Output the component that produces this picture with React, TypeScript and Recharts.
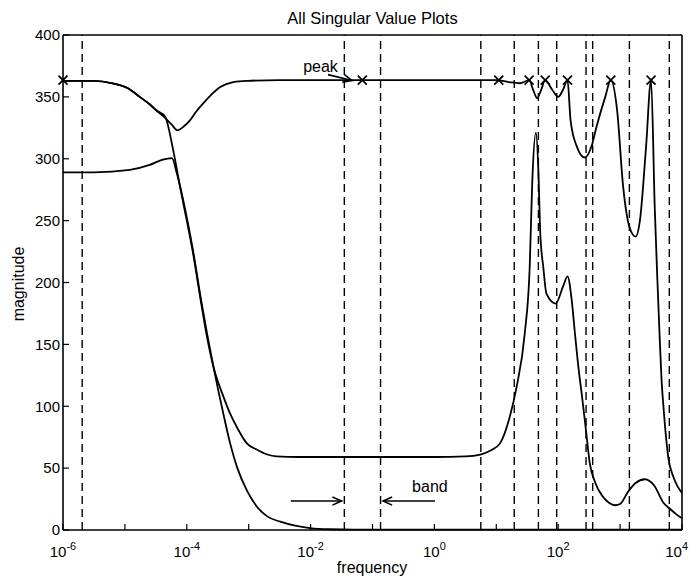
import React from "react";
import {
  ComposedChart,
  Line,
  Scatter,
  XAxis,
  YAxis,
  ReferenceLine,
  ReferenceDot,
} from "recharts";

// x values are log10(frequency)
const xTicks = [-6, -5, -4, -3, -2, -1, 0, 1, 2, 3, 4];
const yTicks = [0, 50, 100, 150, 200, 250, 300, 350, 400];

const cutoffExp = [-5.69, -1.455, -0.87, 0.75, 1.29, 1.68, 1.976, 2.45, 2.557, 3.15, 3.795];

const peakExp = [-6, -1.165, 1.04, 1.53, 1.79, 2.15, 2.85, 3.5];
const peakMag = [363.5, 363.5, 363.5, 363.5, 363.5, 363.5, 363.5, 363.5];

const s1Exp = [
  -6, -5.5, -5.2, -4.95, -4.76, -4.6, -4.49, -4.35, -4.25, -4.15, -4.05, -3.95, -3.85, -3.73, -3.6,
  -3.46, -3.25, -3.03, -2.5, 0, 1.0, 1.2, 1.38, 1.53, 1.6, 1.66, 1.72, 1.79, 1.9, 2.0, 2.08, 2.15,
  2.2, 2.3, 2.43, 2.55, 2.62, 2.76, 2.85, 2.95, 3.05, 3.15, 3.25, 3.32, 3.42, 3.5, 3.56, 3.6, 3.64,
  3.67, 3.7, 3.74, 3.78, 3.86, 3.93, 4,
];
const s1Mag = [
  363, 363, 361, 357, 350, 344, 339, 333, 328, 323, 326, 331, 338, 345, 352,
  358, 362, 363, 363.5, 363.5, 363.5, 362, 361, 363.5, 355, 349, 355, 363.5, 356, 350, 356, 363.5,
  331, 310, 301, 312, 326, 350, 363.5, 340, 277, 245, 237, 250, 310, 363.5, 260, 205, 155,
  121, 100, 76, 58, 43, 35, 30,
];

const s2Exp = [
  -6, -5.5, -5.2, -4.95, -4.76, -4.6, -4.49, -4.35, -4.22, -4.1, -4.0, -3.9, -3.77, -3.67, -3.57,
  -3.41, -3.3, -3.19, -3.03, -2.87, -2.7, -2.55, -2.2, 0, 0.5, 0.74, 0.9, 1.06, 1.22, 1.33, 1.46,
  1.54, 1.58, 1.64, 1.68, 1.71, 1.76, 1.81, 1.96, 2.08, 2.15, 2.22, 2.27, 2.33, 2.38, 2.45, 2.51,
  2.6, 2.72, 2.82, 2.92, 3.0, 3.13, 3.25, 3.4, 3.55, 3.7, 3.81, 3.9, 4,
];
const s2Mag = [
  363, 363, 361, 357, 350, 344, 339, 334, 307, 275, 250, 224, 184, 155, 132,
  108, 94, 83, 70, 65, 61, 59.5, 59, 59, 59.5, 61, 64, 70, 92, 116, 159,
  213, 280, 321, 290, 240, 212, 191, 183, 197, 205, 185, 159, 130, 110, 80, 54,
  38, 27, 22, 20, 21, 31, 38, 41, 36, 22, 17, 13, 9.5,
];

const s3Exp = [
  -6, -5.5, -4.92, -4.6, -4.4, -4.24, -4.16, -4.06, -3.9, -3.77, -3.57, -3.41, -3.3, -3.19, -3.03,
  -2.87, -2.7, -2.49, -2.25, -2.01, -1.69, -1.3, 0, 2, 4,
];
const s3Mag = [
  289, 289, 291, 295, 299, 300.5, 288, 267, 226, 186, 132, 94, 70, 51, 32,
  19, 11, 6.7, 3.5, 1.6, 0.6, 0.3, 0.3, 0.3, 0.3,
];

const toPoints = (xs: number[], ys: number[]) => xs.map((x, i) => ({ x, y: ys[i] }));

const s1 = toPoints(s1Exp, s1Mag);
const s2 = toPoints(s2Exp, s2Mag);
const s3 = toPoints(s3Exp, s3Mag);
const peaks = toPoints(peakExp, peakMag);

const font = "'Liberation Sans', Arial, Helvetica, sans-serif";

const XTick = (props: any) => {
  const { x, y, payload } = props;
  const e = payload.value;
  if (e % 2 !== 0) return <g />;
  // last label would run past the page edge, so anchor it at its end
  const last = e === xTicks[xTicks.length - 1];
  return (
    <text
      x={last ? 688 : x}
      y={y + 27}
      textAnchor={last ? "end" : "middle"}
      fontSize={15}
      fontFamily={font}
      fill="#000"
    >
      <tspan>10</tspan>
      <tspan dy={-7} fontSize={11}>
        {String(e)}
      </tspan>
    </text>
  );
};

const Cross = (props: any) => {
  const { cx, cy } = props;
  const r = 4.5;
  return (
    <path
      d={`M${cx - r},${cy - r}L${cx + r},${cy + r}M${cx - r},${cy + r}L${cx + r},${cy - r}`}
      stroke="#000"
      strokeWidth={1.7}
      fill="none"
    />
  );
};

const Arrow = (props: any) => {
  const { x1, y1, x2, y2 } = props;
  const a = Math.atan2(y2 - y1, x2 - x1);
  const len = 10;
  const w = 0.42;
  const ax = x2 - len * Math.cos(a - w);
  const ay = y2 - len * Math.sin(a - w);
  const bx = x2 - len * Math.cos(a + w);
  const by = y2 - len * Math.sin(a + w);
  return (
    <g>
      <line x1={x1} y1={y1} x2={x2} y2={y2} stroke="#000" strokeWidth={1.6} />
      <polyline points={`${ax},${ay} ${x2},${y2} ${bx},${by}`} fill="none" stroke="#000" strokeWidth={1.6} />
    </g>
  );
};

const Note = (text: string) => (props: any) => (
  <text x={props.cx} y={props.cy} fontSize={16} fontFamily={font} fill="#000">
    {text}
  </text>
);

export default function App() {
  return (
    <div style={{ position: "relative", width: 689, height: 581, background: "#fff" }}>
      <style>{`body{margin:0;}`}</style>
      <div
        style={{
          position: "absolute",
          left: 63,
          width: 619,
          top: 8,
          textAlign: "center",
          fontFamily: font,
          fontSize: 16.5,
          lineHeight: "20px",
        }}
      >
        All Singular Value Plots
      </div>
      <ComposedChart width={689} height={581} margin={{ top: 0, right: 0, bottom: 0, left: 0 }}>
        <XAxis
          xAxisId="B"
          dataKey="x"
          type="number"
          domain={[-6, 4]}
          ticks={xTicks}
          interval={0}
          height={51}
          tickSize={-6}
          tickMargin={6}
          tick={<XTick />}
          axisLine={{ stroke: "#000", strokeWidth: 1.6 }}
          tickLine={{ stroke: "#000", strokeWidth: 1.2 }}
          label={{
            content: () => (
              <text x={372} y={573} textAnchor="middle" fontSize={16} fontFamily={font} fill="#000">
                frequency
              </text>
            ),
          }}
        />
        <XAxis
          xAxisId="T"
          dataKey="x"
          type="number"
          orientation="top"
          domain={[-6, 4]}
          ticks={xTicks}
          interval={0}
          height={35}
          tickSize={-6}
          tick={false}
          axisLine={{ stroke: "#000", strokeWidth: 1.6 }}
          tickLine={{ stroke: "#000", strokeWidth: 1.2 }}
        />
        <YAxis
          yAxisId="L"
          type="number"
          domain={[0, 400]}
          ticks={yTicks}
          interval={0}
          width={63}
          tickSize={-6}
          tickMargin={9}
          tick={{ fill: "#000", fontSize: 15, fontFamily: font }}
          axisLine={{ stroke: "#000", strokeWidth: 1.6 }}
          tickLine={{ stroke: "#000", strokeWidth: 1.2 }}
          label={{
            content: () => (
              <text
                x={24}
                y={284}
                transform="rotate(-90 24 284)"
                textAnchor="middle"
                fontSize={16}
                fontFamily={font}
                fill="#000"
              >
                magnitude
              </text>
            ),
          }}
        />
        <YAxis
          yAxisId="R"
          orientation="right"
          type="number"
          domain={[0, 400]}
          ticks={yTicks}
          interval={0}
          width={7}
          tickSize={-6}
          tick={false}
          axisLine={{ stroke: "#000", strokeWidth: 1.6 }}
          tickLine={{ stroke: "#000", strokeWidth: 1.2 }}
        />

        {cutoffExp.map((e) => (
          <ReferenceLine
            key={e}
            x={e}
            xAxisId="B"
            yAxisId="L"
            stroke="#000"
            strokeWidth={1.4}
            strokeDasharray="8 5"
          />
        ))}

        <Line xAxisId="B" yAxisId="L" data={s3} dataKey="y" type="monotone" stroke="#000" strokeWidth={1.8} dot={false} activeDot={false} isAnimationActive={false} />
        <Line xAxisId="B" yAxisId="L" data={s2} dataKey="y" type="monotone" stroke="#000" strokeWidth={1.8} dot={false} activeDot={false} isAnimationActive={false} />
        <Line xAxisId="B" yAxisId="L" data={s1} dataKey="y" type="monotone" stroke="#000" strokeWidth={1.8} dot={false} activeDot={false} isAnimationActive={false} />
        <Scatter xAxisId="B" yAxisId="L" data={peaks} dataKey="y" shape={<Cross />} isAnimationActive={false} />

        <ReferenceLine
          xAxisId="B"
          yAxisId="L"
          segment={[{ x: -1.72, y: 368 }, { x: -1.33, y: 363.3 }]}
          shape={<Arrow />}
        />
        <ReferenceLine
          xAxisId="B"
          yAxisId="L"
          segment={[{ x: -2.32, y: 23.4 }, { x: -1.5, y: 23.4 }]}
          shape={<Arrow />}
        />
        <ReferenceLine
          xAxisId="B"
          yAxisId="L"
          segment={[{ x: 0.01, y: 23.4 }, { x: -0.83, y: 23.4 }]}
          shape={<Arrow />}
        />
        <ReferenceDot xAxisId="B" yAxisId="L" x={-2.12} y={370} r={1} shape={Note("peak")} />
        <ReferenceDot xAxisId="B" yAxisId="L" x={-0.36} y={30.7} r={1} shape={Note("band")} />
      </ComposedChart>
    </div>
  );
}
